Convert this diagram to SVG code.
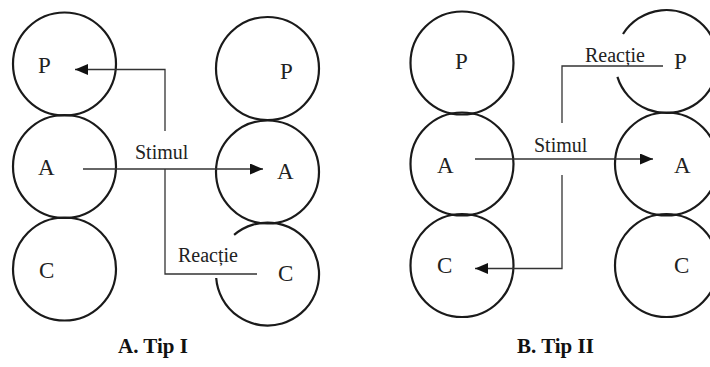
<svg xmlns="http://www.w3.org/2000/svg" width="710" height="367" viewBox="0 0 710 367" font-family="'Liberation Serif', 'DejaVu Serif', serif">
  <style>
    .c { fill: none; stroke: #1a1a1a; stroke-width: 2.2; }
    .l { fill: none; stroke: #333; stroke-width: 1.3; }
    text { font-family: 'Liberation Serif', 'DejaVu Serif', serif; fill: #222; }
    .lab { font-size: 23px; }
    .sm { font-size: 20px; }
    .cap { font-size: 21px; font-weight: bold; fill: #111; }
  </style>
  <defs>
    <marker id="ah" markerUnits="userSpaceOnUse" markerWidth="13" markerHeight="11" refX="13" refY="5.5" orient="auto">
      <path d="M0,0 L13,5.5 L0,11 z" fill="#111"/>
    </marker>
  </defs>
  <rect width="710" height="367" fill="#fff"/>

  <g id="A-P1"><circle class="c" cx="64.5" cy="64" r="51.5"/><text class="lab" x="38" y="73">P</text></g>
  <g id="A-A1"><circle class="c" cx="64.5" cy="166.5" r="51.5"/><text class="lab" x="38" y="175">A</text></g>
  <g id="A-C1"><circle class="c" cx="64.5" cy="269" r="51.5"/><text class="lab" x="39" y="278">C</text></g>
  <g id="A-P2"><circle class="c" cx="267.5" cy="68.5" r="51.5"/><text class="lab" x="280" y="79">P</text></g>
  <g id="A-A2"><circle class="c" cx="267.5" cy="172" r="51.5"/><text class="lab" x="277" y="179">A</text></g>
  <g id="A-C2"><path class="c" d="M234.1,234.9 A51.5,51.5 0 1 1 216.2,278"/><text class="lab" x="278" y="281">C</text></g>

  <g id="B-P1"><circle class="c" cx="462" cy="63" r="51.5"/><text class="lab" x="455" y="69">P</text></g>
  <g id="B-A1"><circle class="c" cx="462" cy="164" r="51.5"/><text class="lab" x="437" y="173">A</text></g>
  <g id="B-C1"><circle class="c" cx="462" cy="265.5" r="51.5"/><text class="lab" x="437" y="273">C</text></g>
  <g id="B-P2"><path class="c" d="M623,34 A51.5,51.5 0 1 1 617.4,76.9"/><text class="lab" x="674" y="69">P</text></g>
  <g id="B-A2"><circle class="c" cx="666.5" cy="164" r="51.5"/><text class="lab" x="674" y="173">A</text></g>
  <g id="B-C2"><circle class="c" cx="666.5" cy="265.5" r="51.5"/><text class="lab" x="674" y="273">C</text></g>

  <g id="connectors">
    <line class="l" x1="83" y1="169" x2="263" y2="169" marker-end="url(#ah)"/>
    <polyline class="l" points="165,131 165,69.5 75,69.5" marker-end="url(#ah)"/>
    <polyline class="l" points="165,169 165,274 257,274"/>
    <line class="l" x1="475" y1="159" x2="653" y2="159" marker-end="url(#ah)"/>
    <polyline class="l" points="562,123 562,66 663,66"/>
    <polyline class="l" points="562,175 562,268.5 475,268.5" marker-end="url(#ah)"/>
  </g>

  <g id="labels">
    <text class="sm" x="135" y="159">Stimul</text>
    <text class="sm" x="178" y="262">Reacție</text>
    <text class="sm" x="534" y="152">Stimul</text>
    <text class="sm" x="585" y="62">Reacție</text>
    <text class="cap" x="118" y="353">A. Tip I</text>
    <text class="cap" x="517" y="353">B. Tip II</text>
  </g>
</svg>
